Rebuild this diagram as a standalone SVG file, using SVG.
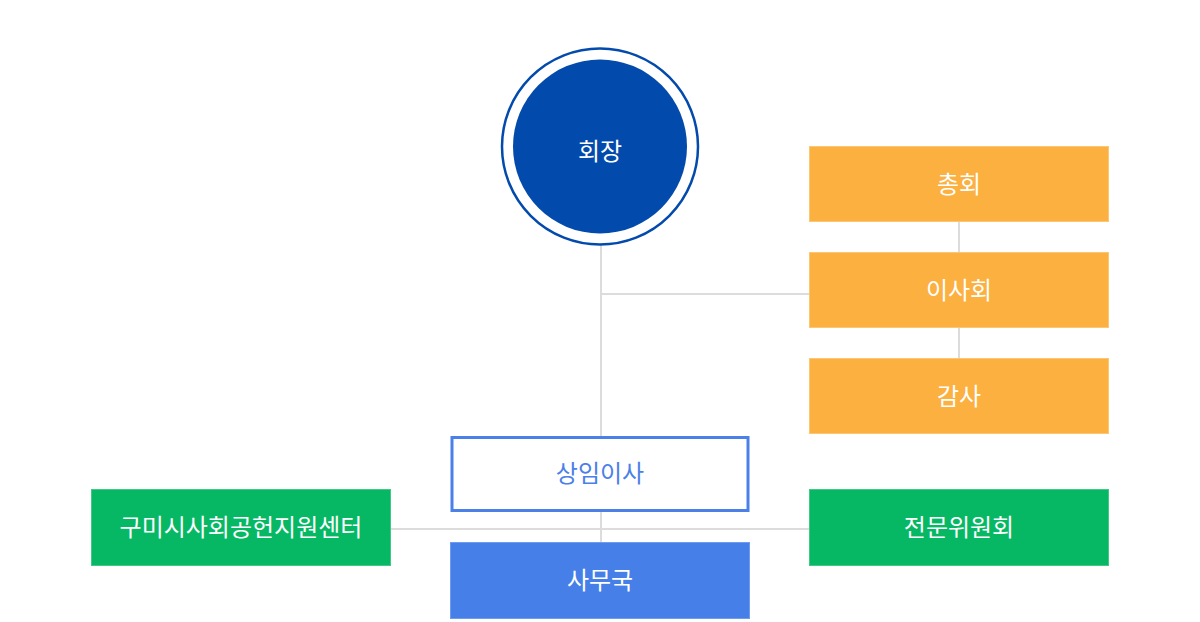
<svg xmlns="http://www.w3.org/2000/svg" width="1200" height="622" viewBox="0 0 1200 622">
<style>
.lbl{font-family:"Noto Sans CJK KR","Noto Sans",sans-serif;font-size:24px;text-anchor:middle;fill:#ffffff}
.orange{fill:#fbb040;stroke:#fcc774;stroke-width:1}
.green{fill:#06b864;stroke:#3ec985;stroke-width:1}
.line{stroke:#dcdcdc;stroke-width:2;fill:none}
</style>
<rect width="1200" height="622" fill="#ffffff"/>
<g id="connectors">
<line class="line" x1="601" y1="245" x2="601" y2="437"/>
<line class="line" x1="601" y1="511" x2="601" y2="542"/>
<line class="line" x1="601" y1="294" x2="809" y2="294"/>
<line class="line" x1="391" y1="529" x2="809" y2="529"/>
<line class="line" x1="959" y1="222" x2="959" y2="358"/>
</g>
<g id="chairman">
<circle cx="600" cy="146.5" r="98" fill="#ffffff" stroke="#034aad" stroke-width="2.5"/>
<circle cx="600" cy="146.5" r="87" fill="#034aad"/>
<text class="lbl" x="600" y="160">회장</text>
</g>
<g id="general-assembly">
<rect class="orange" x="809.5" y="146.5" width="299" height="75"/>
<text class="lbl" x="959" y="193">총회</text>
</g>
<g id="board">
<rect class="orange" x="809.5" y="252.5" width="299" height="75"/>
<text class="lbl" x="959" y="299">이사회</text>
</g>
<g id="audit">
<rect class="orange" x="809.5" y="358.5" width="299" height="75"/>
<text class="lbl" x="959" y="405">감사</text>
</g>
<g id="standing-director">
<rect x="452" y="437.5" width="296" height="73" fill="#ffffff" stroke="#4a80e8" stroke-width="3"/>
<text class="lbl" x="600" y="482" style="fill:#4a80e8">상임이사</text>
</g>
<g id="secretariat">
<rect x="450.5" y="542.5" width="299" height="76" fill="#457fe7" stroke="#6f9cf0" stroke-width="1"/>
<text class="lbl" x="600" y="589">사무국</text>
</g>
<g id="social-contribution-center">
<rect class="green" x="91.5" y="489.5" width="299" height="76"/>
<text class="lbl" x="241" y="536">구미시사회공헌지원센터</text>
</g>
<g id="expert-committee">
<rect class="green" x="809.5" y="489.5" width="299" height="76"/>
<text class="lbl" x="959" y="536">전문위원회</text>
</g>
</svg>
